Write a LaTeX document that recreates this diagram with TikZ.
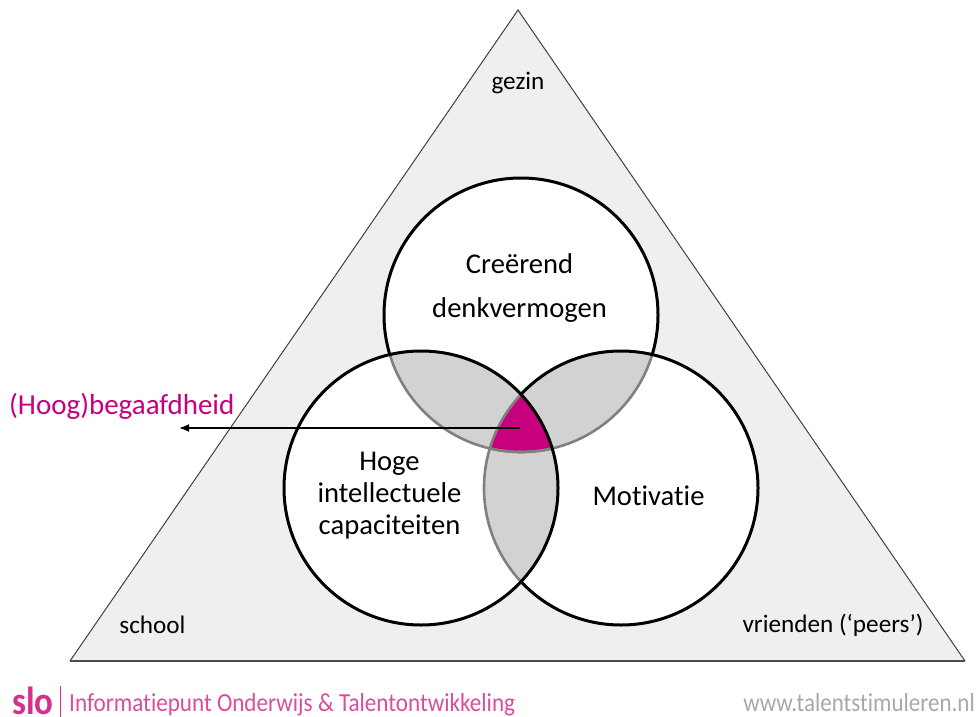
\documentclass[tikz,border=0pt]{standalone}
\usepackage{fontspec}
\usetikzlibrary{arrows.meta}
\setmainfont{Carlito}[Ligatures=NoCommon]
\definecolor{tri}{HTML}{EFEFEF}
\definecolor{lens}{HTML}{D2D2D2}
\definecolor{edge}{HTML}{808080}
\definecolor{mag}{HTML}{C6007E}
\definecolor{footmag}{HTML}{DB4C9C}
\definecolor{logomag}{HTML}{D62F8C}
\definecolor{footgray}{HTML}{A8A8A8}
\tikzset{
  lbl/.style={align=center,text=black,inner sep=0pt},
  small/.style={font=\fontsize{25.2}{30}\selectfont,text=black,inner sep=0pt},
  ring/.style={draw=black,line width=3pt},
  ringgray/.style={draw=edge,line width=2.6pt},
}
\begin{document}
\begin{tikzpicture}[x=1pt,y=-1pt]
\useasboundingbox (0,0) rectangle (977,717);
\coordinate (apex) at (518,10);
\coordinate (bl) at (70,661);
\coordinate (br) at (965,661);
\coordinate (ct) at (521,315);
\coordinate (cl) at (421,488);
\coordinate (cr) at (621,488);
\def\rad{137pt}
% triangle
\fill[tri] (apex) -- (br) -- (bl) -- cycle;
\draw[black!75,line width=1pt] (bl) -- (apex) -- (br);
\draw[black!70,line width=1.6pt] (bl) -- (br);
% discs
\fill[white] (ct) circle[radius=\rad];
\fill[white] (cl) circle[radius=\rad];
\fill[white] (cr) circle[radius=\rad];
% lenses
\begin{scope}
  \clip (ct) circle[radius=\rad];
  \fill[lens] (cl) circle[radius=\rad];
  \fill[lens] (cr) circle[radius=\rad];
\end{scope}
\begin{scope}
  \clip (cl) circle[radius=\rad];
  \fill[lens] (cr) circle[radius=\rad];
\end{scope}
\begin{scope}
  \clip (ct) circle[radius=\rad];
  \clip (cl) circle[radius=\rad];
  \fill[mag] (cr) circle[radius=\rad];
\end{scope}
% grey parts of the outlines
\begin{scope}
  \clip (cl) circle[radius=\rad];
  \draw[ringgray] (ct) circle[radius=\rad];
  \draw[ringgray] (cr) circle[radius=\rad];
\end{scope}
\begin{scope}
  \clip (cr) circle[radius=\rad];
  \draw[ringgray] (ct) circle[radius=\rad];
\end{scope}
% black parts of the outlines
\begin{scope}[even odd rule]
  \clip (0,0) rectangle (977,717) (cl) circle[radius=\rad];
  \draw[ring] (cr) circle[radius=\rad];
  \clip (0,0) rectangle (977,717) (cr) circle[radius=\rad];
  \draw[ring] (ct) circle[radius=\rad];
\end{scope}
\draw[ring] (cl) circle[radius=\rad];
% arrow
\coordinate (arrowstart) at (520,428);
\coordinate (arrowend) at (179,428);
\draw[black,line width=1.8pt,-{Latex[length=10pt,width=8pt]}] (arrowstart) -- (arrowend);
% labels
\node[small] (gezin) at (518,82.5) {gezin};
\node[small] (school) at (152.5,625) {school};
\node[small] (vrienden) at (833,625) {vrienden (‘peers’)};
\node[lbl,font=\fontsize{28.6}{44}\selectfont] (creative) at (519.5,288.5) {Creërend\\denkvermogen};
\node[lbl,font=\fontsize{28.6}{32}\selectfont] (hoge) at (389.5,495.5) {Hoge\\intellectuele\\capaciteiten};
\node[lbl,font=\fontsize{28.6}{32}\selectfont] (motivatie) at (648.5,496) {Motivatie};
\node[font=\fontsize{29}{32}\selectfont,text=mag,inner sep=0pt,anchor=west] (hoog) at (9,406) {(Hoog)begaafdheid};
% footer
\node[font=\fontsize{35}{38}\selectfont\bfseries,text=logomag,inner sep=0pt,anchor=base west] (slo) at (12,714.5) {\scalebox{1}[1.12]{slo}};
\coordinate (bartop) at (60.5,686);
\coordinate (barbot) at (60.5,717);
\draw[logomag,line width=1pt] (bartop) -- (barbot);
\node[font=\fontsize{26}{28}\selectfont,text=footmag,inner sep=0pt,anchor=base west] (info) at (69,711.5) {\scalebox{.89}[1]{Informatiepunt Onderwijs \& Talentontwikkeling}};
\node[font=\fontsize{26}{28}\selectfont,text=footgray,inner sep=0pt,anchor=base east] (www) at (975,711.5) {\scalebox{.885}[1]{www.talentstimuleren.nl}};
\end{tikzpicture}
\end{document}
